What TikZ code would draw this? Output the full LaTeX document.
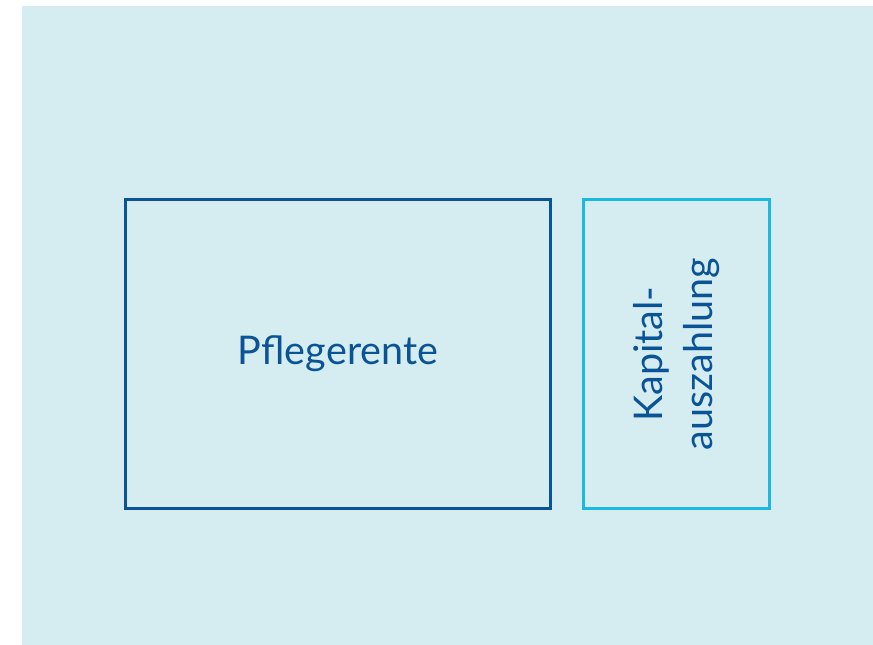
\documentclass[tikz,border=0pt]{standalone}
\usepackage{fontspec}
\setsansfont{Lato}
\usepackage{tikz}
\usetikzlibrary{positioning}
\definecolor{bgblue}{HTML}{D5EDF1}
\definecolor{darkblue}{HTML}{0A5396}
\definecolor{skyblue}{HTML}{1CB8E4}

\begin{document}
\begin{tikzpicture}[x=0.02cm, y=-0.02cm, font=\sffamily]
        % Setup the style for the boxes
        \tikzset{box style/.style={rectangle,
                                   draw,
                                   line width=1.4pt,
                                   text=darkblue,
                                   minimum height=6.18cm,
                                   font=\sffamily\fontsize{22.5}{28}\selectfont}}
        % Background
        \useasboundingbox (0,0) rectangle (873,645);
        \fill[bgblue] (22,6) rectangle (873,645);
        % Draw the boxes
        \node[box style, draw=darkblue, minimum width=8.5cm] at (338,354) (rente) {Pflegerente};
        \node[box style, draw=skyblue, minimum width=3.72cm] at (676.5,354) (kapital) {};
        \node[text=darkblue, rotate=90, align=center,
              font=\sffamily\fontsize{22.5}{28}\selectfont] at (kapital.center) (kapitaltext) {Kapital-\\auszahlung};
\end{tikzpicture}
\end{document}
